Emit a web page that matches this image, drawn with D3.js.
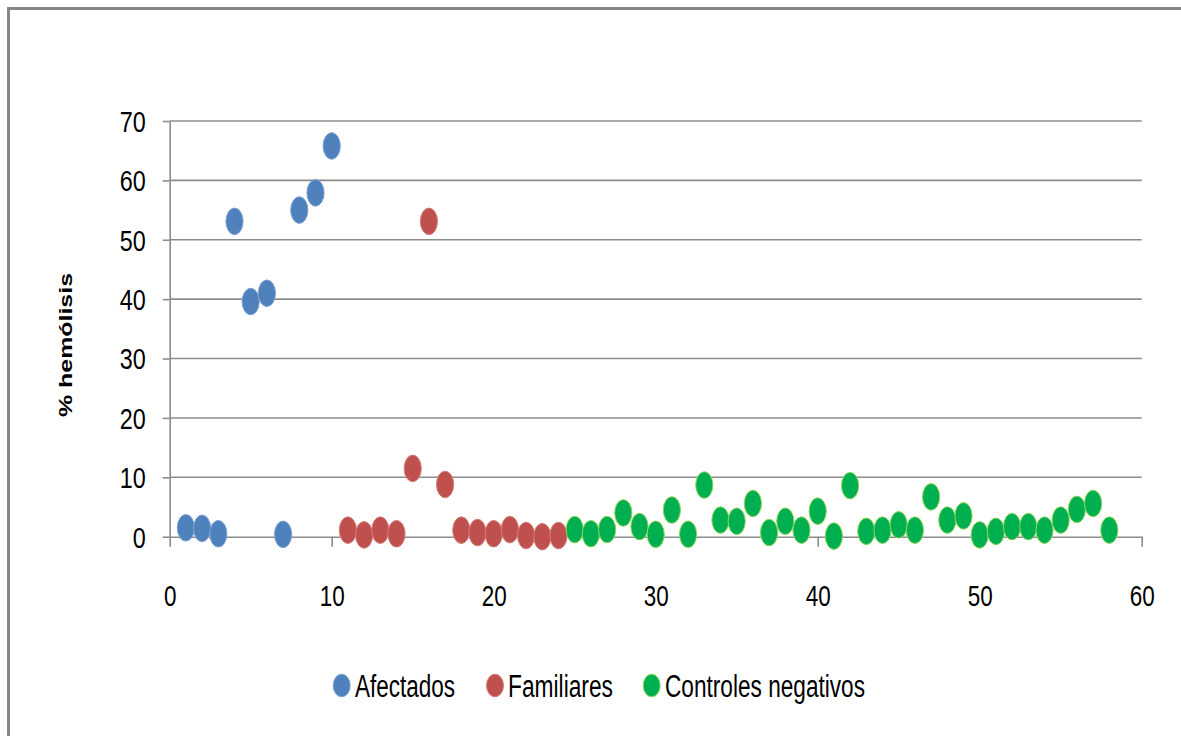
<!DOCTYPE html>
<html>
<head>
<meta charset="utf-8">
<script src="https://cdn.jsdelivr.net/npm/d3@7"></script>
<style>
  body { margin: 0; background: #fff; }
  svg { display: block; }
  text { font-family: "Liberation Sans", Arial, sans-serif; fill: #000; }
</style>
</head>
<body>
<svg></svg>
<script>
/* Series: sample number and % hemolysis */
let afectadosX = [1, 2, 3, 4, 5, 6, 7, 8, 9, 10]
let afectadosY = [1.5, 1.4, 0.5, 53.1, 39.6, 41.0, 0.4, 55.0, 57.9, 65.8]

let familiaresX = [11, 12, 13, 14, 15, 16, 17, 18, 19, 20, 21, 22, 23, 24]
let familiaresY = [1.1, 0.3, 1.1, 0.5, 11.5, 53.1, 8.8, 1.1, 0.7, 0.5, 1.2, 0.2, 0.0, 0.2]

let controlesX = [25, 26, 27, 28, 29, 30, 31, 32, 33, 34, 35, 36, 37, 38, 39, 40, 41,
  42, 43, 44, 45, 46, 47, 48, 49, 50, 51, 52, 53, 54, 55, 56, 57, 58]
let controlesY = [1.2, 0.5, 1.2, 4.0, 1.7, 0.4, 4.5, 0.4, 8.7, 2.8, 2.6, 5.6, 0.7, 2.6, 1.1, 4.3, 0.1,
  8.6, 0.9, 1.1, 2.0, 1.1, 6.7, 2.8, 3.5, 0.3, 0.9, 1.7, 1.7, 1.1, 2.8, 4.6, 5.6, 1.1]

let seriesNames = ['Afectados', 'Familiares', 'Controles negativos']
let xTicks = [0, 10, 20, 30, 40, 50, 60]
let yTicks = [0, 10, 20, 30, 40, 50, 60, 70]

window.addEventListener('DOMContentLoaded', () => {
  let width = 1181
  let height = 736

  let svg = d3.select('svg')
    .attr('width', width)
    .attr('height', height)

  let series = [
    { name: seriesNames[0], xs: afectadosX, ys: afectadosY, fill: '#4f81bd', edge: '#7ea2d2' },
    { name: seriesNames[1], xs: familiaresX, ys: familiaresY, fill: '#c0504d', edge: '#d27e7b' },
    { name: seriesNames[2], xs: controlesX, ys: controlesY, fill: '#00b050', edge: '#8fd65a' }
  ]

  /* Scales */
  let xScale = d3.scaleLinear()
    .domain([0, 60])
    .range([169.7, 1141.7])

  let yScale = d3.scaleLinear()
    .domain([0, 70])
    .range([536.7, 121])

  /* Outer chart frame */
  svg.append('rect')
    .attr('x', 8.5)
    .attr('y', 8.5)
    .attr('width', 1200)
    .attr('height', 800)
    .attr('fill', 'none')
    .attr('stroke', '#878787')
    .attr('stroke-width', 3)

  /* Horizontal gridlines */
  svg.append('g')
    .selectAll('line')
    .data(yTicks.slice(1))
    .enter()
    .append('line')
      .attr('x1', xScale(0))
      .attr('x2', xScale(60))
      .attr('y1', d => yScale(d))
      .attr('y2', d => yScale(d))
      .attr('stroke', '#8c8c8c')
      .attr('stroke-width', 1.6)

  /* squeeze tick labels to the narrow look of the original */
  let squeeze = (sel, perDigit) => sel
    .attr('textLength', d => String(d).length * perDigit)
    .attr('lengthAdjust', 'spacingAndGlyphs')

  /* y-axis */
  let yAxis = d3.axisLeft(yScale)
    .tickValues(yTicks)
    .tickSize(7)
    .tickSizeOuter(0)
    .tickPadding(17)

  let yG = svg.append('g')
    .attr('transform', `translate(${xScale(0)}, 0)`)
    .call(yAxis)
  yG.selectAll('path, line').attr('stroke', '#8c8c8c').attr('stroke-width', 1.6)
  yG.selectAll('text')
    .style('font-size', '29px')
    .attr('dy', '0.36em')
    .call(squeeze, 13)

  /* x-axis */
  let xAxis = d3.axisBottom(xScale)
    .tickValues(xTicks)
    .tickSize(10)
    .tickSizeOuter(0)
    .tickPadding(38)

  let xG = svg.append('g')
    .attr('transform', `translate(0, ${yScale(0)})`)
    .call(xAxis)
  xG.selectAll('path, line').attr('stroke', '#8c8c8c').attr('stroke-width', 1.6)
  xG.selectAll('text')
    .style('font-size', '30px')
    .attr('dy', '0.71em')
    .call(squeeze, 12.5)

  /* Scatter points */
  series.forEach(s => {
    svg.append('g')
      .selectAll('ellipse')
      .data(s.xs.map((x, i) => ({ x: x, y: s.ys[i] })))
      .enter()
      .append('ellipse')
        .attr('cx', d => xScale(d.x))
        .attr('cy', d => yScale(d.y))
        .attr('rx', 8.6)
        .attr('ry', 13.3)
        .attr('fill', s.fill)
        .attr('stroke', s.edge)
        .attr('stroke-width', 1)
  })

  /* y-axis label */
  svg.append('text')
    .attr('transform', 'translate(72, 345) rotate(-90)')
    .attr('text-anchor', 'middle')
    .attr('textLength', 144)
    .attr('lengthAdjust', 'spacingAndGlyphs')
    .style('font-weight', 'bold')
    .style('font-size', '19px')
    .text('% hemólisis')

  /* Legend */
  let legendItems = [
    { dot: 341.7, start: 355, len: 100 },
    { dot: 495, start: 508, len: 105 },
    { dot: 651.7, start: 665, len: 200 }
  ]

  let legend = svg.append('g')
    .selectAll('g')
    .data(series)
    .enter()
    .append('g')

  legend.append('ellipse')
    .attr('cx', (d, i) => legendItems[i].dot)
    .attr('cy', 685.5)
    .attr('rx', 8.5)
    .attr('ry', 11.3)
    .attr('fill', d => d.fill)
    .attr('stroke', d => d.edge)
    .attr('stroke-width', 1)

  legend.append('text')
    .attr('x', (d, i) => legendItems[i].start)
    .attr('y', 697)
    .attr('textLength', (d, i) => legendItems[i].len)
    .attr('lengthAdjust', 'spacingAndGlyphs')
    .style('font-size', '31px')
    .text(d => d.name)
})
</script>
</body>
</html>
